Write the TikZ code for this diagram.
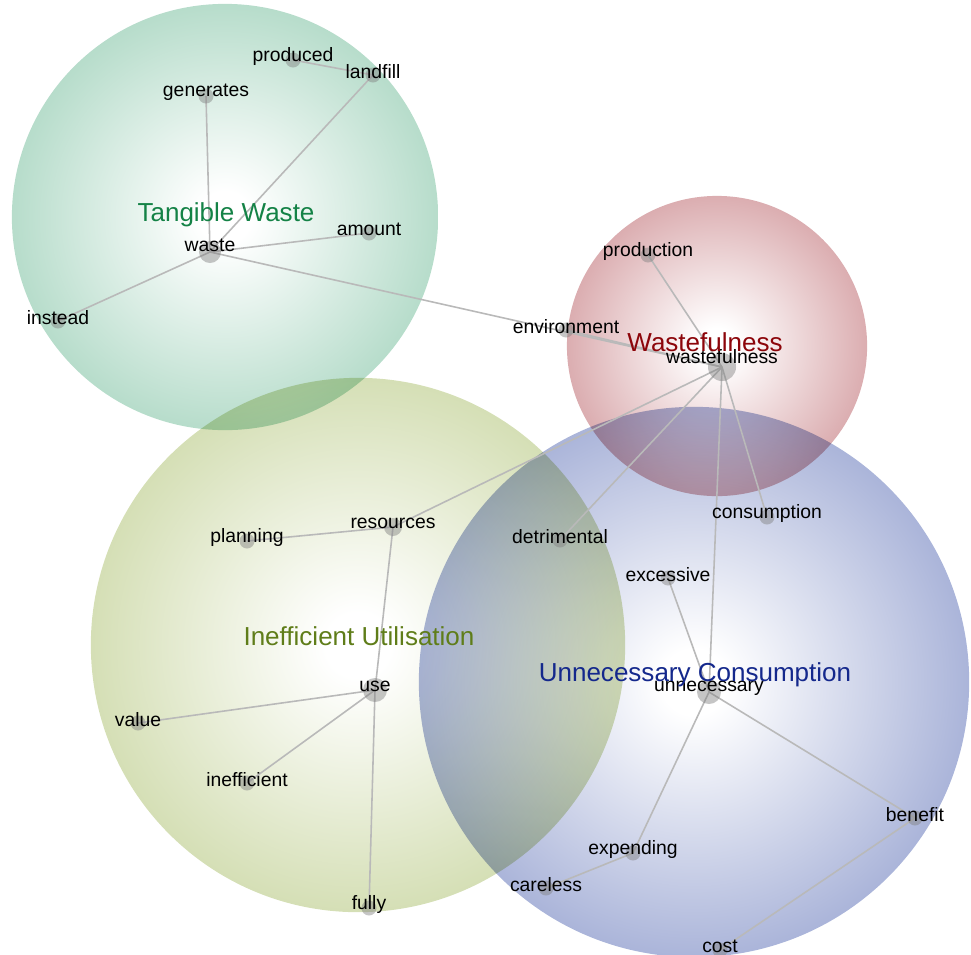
\documentclass[tikz,border=0pt]{standalone}
\usepackage{fontspec}
\setmainfont{Liberation Sans}
\usetikzlibrary{backgrounds}

\definecolor{tangcol}{RGB}{140,200,172}
\definecolor{wastecol}{RGB}{198,125,130}
\definecolor{ineffcol}{RGB}{188,204,138}
\definecolor{unnecol}{RGB}{136,150,202}
\definecolor{tangtext}{RGB}{20,130,70}
\definecolor{wastetext}{RGB}{140,5,10}
\definecolor{iefftext}{RGB}{95,125,25}
\definecolor{unnetext}{RGB}{20,40,140}

\pgfdeclareradialshading{tangshade}{\pgfpoint{0bp}{0bp}}{color(0bp)=(white); color(3bp)=(white); color(38bp)=(tangcol); color(50bp)=(tangcol)}
\pgfdeclareradialshading{wasteshade}{\pgfpoint{0bp}{0bp}}{color(0bp)=(white); color(3bp)=(white); color(38bp)=(wastecol); color(50bp)=(wastecol)}
\pgfdeclareradialshading{ineffshade}{\pgfpoint{0bp}{0bp}}{color(0bp)=(white); color(3bp)=(white); color(38bp)=(ineffcol); color(50bp)=(ineffcol)}
\pgfdeclareradialshading{unneshade}{\pgfpoint{0bp}{0bp}}{color(0bp)=(white); color(3bp)=(white); color(34bp)=(unnecol); color(50bp)=(unnecol)}

\tikzset{
  dot/.style={circle, fill=gray, fill opacity=0.45, inner sep=0pt, minimum size=0.15cm},
  hub/.style={dot, minimum size=#1},
  word/.style={font=\fontsize{5.5}{6.6}\selectfont, text=black, fill opacity=1, text opacity=1,
    anchor=base, yshift=1pt, inner sep=0pt},
  theme/.style={font=\fontsize{7.4}{8.9}\selectfont, anchor=base, inner sep=0pt},
  link/.style={draw=gray!55, line width=0.45pt}
}

\begin{document}
\begin{tikzpicture}[x=0.01cm, y=-0.01cm]
  \useasboundingbox (0,0) rectangle (971,954);

  \node[dot, label={[word]center:produced}] (produced) at (293,60) {};
  \node[dot, label={[word]center:landfill}] (landfill) at (373,75) {};
  \node[dot, label={[word]center:generates}] (generates) at (206,96) {};
  \node[dot, label={[word]center:amount}] (amount) at (369,233) {};
  \node[hub=0.22cm, label={[word,yshift=1pt]center:waste}] (waste) at (210,252) {};
  \node[dot, label={[word]center:instead}] (instead) at (58,321) {};
  \node[dot, label={[word]center:production}] (production) at (648,255) {};
  \node[dot, label={[word]center:environment}] (environment) at (566,330) {};
  \node[hub=0.28cm, label={[word,yshift=2pt]center:wastefulness}] (wastefulness) at (722,367) {};
  \node[hub=0.18cm, label={[word]center:resources}] (resources) at (393,527) {};
  \node[dot, label={[word]center:planning}] (planning) at (247,541) {};
  \node[dot, label={[word]center:detrimental}] (detrimental) at (560,540) {};
  \node[dot, label={[word]center:consumption}] (consumption) at (767,517) {};
  \node[dot, label={[word]center:excessive}] (excessive) at (668,578) {};
  \node[hub=0.24cm, label={[word]center:unnecessary}] (unnecessary) at (709,692) {};
  \node[hub=0.24cm, label={[word]center:use}] (use) at (375,690) {};
  \node[dot, label={[word]center:value}] (value) at (138,723) {};
  \node[dot, label={[word]center:inefficient}] (inefficient) at (247,783) {};
  \node[dot, label={[word]center:benefit}] (benefit) at (915,818) {};
  \node[dot, label={[word]center:expending}] (expending) at (633,853) {};
  \node[dot, label={[word]center:careless}] (careless) at (546,888) {};
  \node[dot, label={[word]center:fully}] (fully) at (369,908) {};
  \node[dot, label={[word]center:cost}] (cost) at (720,950) {};

  \node[theme, text=tangtext] (tangible) at (226,221) {Tangible Waste};
  \node[theme, text=wastetext] (wasteful) at (705,351) {Wastefulness};
  \node[theme, text=iefftext] (inefficiency) at (359,645) {Inefficient Utilisation};
  \node[theme, text=unnetext] (unneeded) at (695,681) {Unnecessary Consumption};

  \begin{pgfonlayer}{background}
    \begin{scope}[blend mode=multiply]
      \shade[shading=tangshade] (225,217) circle (2.13cm);
      \shade[shading=ineffshade] (358,645) circle (2.67cm);
      \shade[shading=unneshade] (694,682) circle (2.75cm);
      \shade[shading=wasteshade] (717,346) circle (1.50cm);
    \end{scope}
    \draw[link] (waste.center) -- (generates.center);
    \draw[link] (waste.center) -- (landfill.center);
    \draw[link] (landfill.center) -- (produced.center);
    \draw[link] (waste.center) -- (amount.center);
    \draw[link] (waste.center) -- (instead.center);
    \draw[link] (waste.center) -- (wastefulness.center);
    \draw[link] (environment.center) -- (wastefulness.center);
    \draw[link] (wastefulness.center) -- (production.center);
    \draw[link] (wastefulness.center) -- (resources.center);
    \draw[link] (wastefulness.center) -- (detrimental.center);
    \draw[link] (wastefulness.center) -- (unnecessary.center);
    \draw[link] (wastefulness.center) -- (consumption.center);
    \draw[link] (resources.center) -- (planning.center);
    \draw[link] (resources.center) -- (use.center);
    \draw[link] (use.center) -- (value.center);
    \draw[link] (use.center) -- (inefficient.center);
    \draw[link] (use.center) -- (fully.center);
    \draw[link] (unnecessary.center) -- (excessive.center);
    \draw[link] (unnecessary.center) -- (expending.center);
    \draw[link] (unnecessary.center) -- (benefit.center);
    \draw[link] (expending.center) -- (careless.center);
    \draw[link] (benefit.center) -- (cost.center);
  \end{pgfonlayer}
\end{tikzpicture}
\end{document}
